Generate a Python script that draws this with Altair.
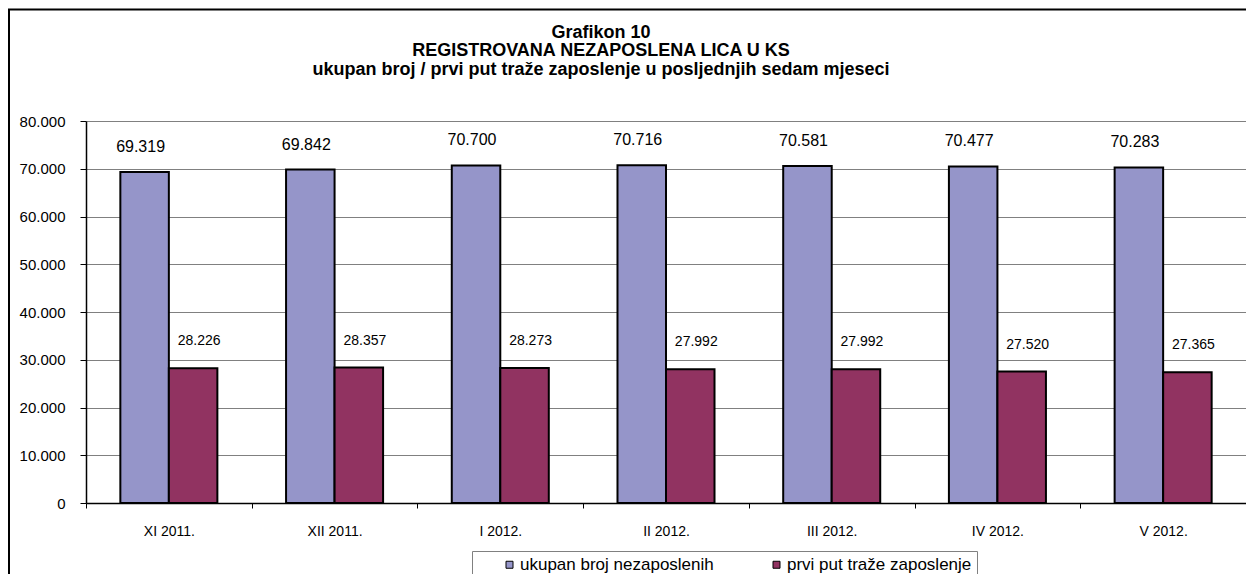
import altair as alt
import pandas as pd

months = ["XI 2011.", "XII 2011.", "I 2012.", "II 2012.", "III 2012.", "IV 2012.", "V 2012."]
ukupan = [69319, 69842, 70700, 70716, 70581, 70477, 70283]
prvi = [28226, 28357, 28273, 27992, 27992, 27520, 27365]
series = ["ukupan broj nezaposlenih", "prvi put traže zaposlenje"]
colors = ["#9595C9", "#913361"]
y_ticks = [0, 10000, 20000, 30000, 40000, 50000, 60000, 70000, 80000]
title_lines = [
    "Grafikon 10",
    "REGISTROVANA NEZAPOSLENA LICA U KS",
    "ukupan broj / prvi put traže zaposlenje u posljednjih sedam mjeseci",
]

rows = []
for m, a, b in zip(months, ukupan, prvi):
    rows.append({"mjesec": m, "serija": series[0], "vrijednost": a})
    rows.append({"mjesec": m, "serija": series[1], "vrijednost": b})
df = pd.DataFrame(rows)

FONT = "Liberation Sans"
fmt = "replace(format(datum.value, ','), ',', '.')"

x = alt.X(
    "mjesec:N", sort=months,
    scale=alt.Scale(paddingInner=0, paddingOuter=0),
    axis=alt.Axis(title=None, labelAngle=0, tickBand="extent", domainColor="black",
                  domainWidth=1.5, tickColor="black", tickSize=5, labelPadding=16,
                  labelFontSize=14, labelFont=FONT, labelColor="black", grid=False),
)
xo = alt.XOffset("serija:N", sort=series,
                 scale=alt.Scale(domain=series, paddingInner=0, paddingOuter=0.708))
y = alt.Y(
    "vrijednost:Q",
    scale=alt.Scale(domain=[0, 80000], nice=False),
    axis=alt.Axis(title=None, values=y_ticks, labelExpr=fmt, domainColor="black",
                  domainWidth=1.5, tickColor="black", tickSize=6, labelPadding=15,
                  labelFontSize=15, labelFont=FONT, labelColor="black",
                  grid=True, gridColor="#808080", gridWidth=1),
)
color = alt.Color(
    "serija:N", sort=series,
    scale=alt.Scale(domain=series, range=colors),
    legend=alt.Legend(title=None, orient="none", legendX=386, legendY=430,
                      direction="horizontal", strokeColor="#808080", fillColor="white",
                      padding=5, symbolOffset=24, symbolType="square", symbolSize=49,
                      symbolStrokeColor="black", symbolStrokeWidth=1,
                      labelFontSize=17, labelFont=FONT, labelColor="black",
                      labelOffset=2, labelLimit=0, columnPadding=30),
)

bars = alt.Chart(df).mark_bar(stroke="black", strokeWidth=2).encode(
    x=x, xOffset=xo, y=y, color=color
)

base_text = alt.Chart(df).transform_calculate(
    lab="replace(format(datum.vrijednost, ','), ',', '.')"
)
text_blue = base_text.transform_filter(alt.datum.serija == series[0]).mark_text(
    font=FONT, fontSize=16, color="black", dy=-25, dx=-4, baseline="middle"
).encode(x=x, xOffset=xo, y=y, text="lab:N")
text_red = base_text.transform_filter(alt.datum.serija == series[1]).mark_text(
    font=FONT, fontSize=14, color="black", dy=-27, dx=6, baseline="middle"
).encode(x=x, xOffset=xo, y=y, text="lab:N")

frame = alt.Chart(alt.Data(values=[{}])).mark_rect(
    fill="transparent", stroke="black", strokeWidth=2, clip=False
).encode(
    x=alt.value(-77), x2=alt.value(1400), y=alt.value(-111.5), y2=alt.value(700)
)

chart = alt.layer(frame, bars, text_blue, text_red).properties(
    width=1160, height=382,
    title=alt.TitleParams(text=title_lines, font=FONT, fontSize=18, fontWeight="bold",
                          color="black", anchor="middle", frame="group", dx=-65,
                          offset=-70, lineHeight=18.5),
    autosize=alt.AutoSizeParams(type="none"),
    padding={"left": 78, "top": 113, "right": 0, "bottom": 71},
).configure(background="white").configure_view(stroke=None)

chart.save("out.html", embed_options={"renderer": "svg", "actions": False})
